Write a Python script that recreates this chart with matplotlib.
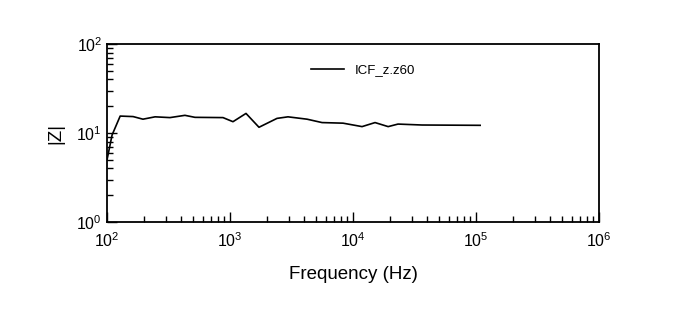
import numpy as np
import matplotlib.pyplot as plt
from matplotlib.ticker import LogLocator, NullFormatter

plt.rcParams['font.family'] = ['Liberation Sans', 'DejaVu Sans']

# Impedanzdaten
freq = [100, 110, 128, 163, 196, 246, 325, 430, 519, 877, 1057, 1349, 1720,
        2410, 2960, 4230, 5600, 8300, 11840, 15100, 19300, 23200, 36400, 108000]
z_abs = [4.97, 9.5, 15.5, 15.3, 14.3, 15.2, 14.9, 15.8, 15.0, 14.9, 13.4, 16.6,
         11.6, 14.6, 15.2, 14.3, 13.1, 12.9, 11.8, 13.1, 11.8, 12.6, 12.3, 12.2]

fig = plt.figure(figsize=(6.75, 3.23), dpi=100)
ax = fig.add_axes([0.1585, 0.3127, 0.729, 0.551])

ax.plot(freq, z_abs, color='black', lw=1.2, label='ICF_z.z60')

ax.set_xscale('log')
ax.set_yscale('log')
ax.set_xlim(1e2, 1e6)
ax.set_ylim(1e0, 1e2)

ax.xaxis.set_minor_locator(LogLocator(base=10, subs=np.arange(2, 10), numticks=20))
ax.yaxis.set_minor_locator(LogLocator(base=10, subs=np.arange(2, 10), numticks=20))
ax.xaxis.set_minor_formatter(NullFormatter())
ax.yaxis.set_minor_formatter(NullFormatter())

ax.tick_params(which='both', direction='in', top=False, right=False, labelsize=11.5)
ax.tick_params(which='major', length=7, width=1)
ax.tick_params(which='minor', length=4, width=1)
ax.tick_params(axis='x', pad=7)
for sp in ax.spines.values():
    sp.set_linewidth(1.3)

ax.set_xlabel('Frequency (Hz)', fontsize=13.5, labelpad=11)
ax.set_ylabel('|Z|', fontsize=13.5, labelpad=9)

ax.legend(loc='upper left', bbox_to_anchor=(0.39, 0.955), frameon=False,
          fontsize=9.5, handlelength=2.5)

fig.savefig('out.png', dpi=100)
